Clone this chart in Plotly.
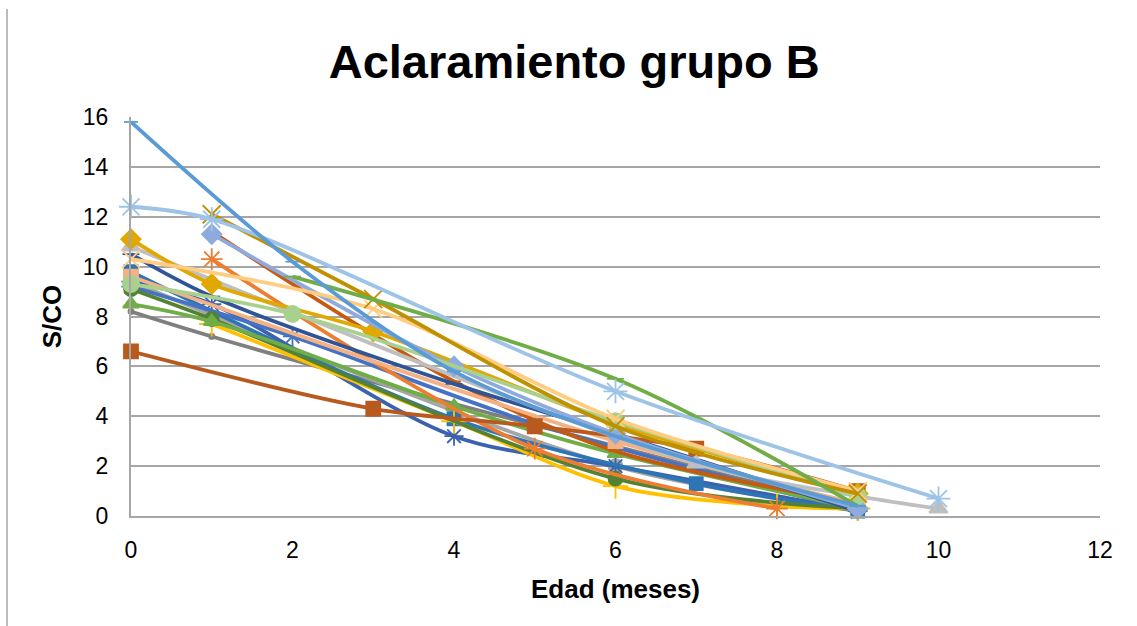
import plotly.graph_objects as go

# Edad (meses) and S/CO readings for each patient of group B
x01 = [0, 2, 4, 6, 9]
y01 = [15.8, 10.2, 5.8, 3.2, 0.4]
x02 = [0, 1, 6, 10]
y02 = [12.4, 11.9, 5.0, 0.7]
x03 = [1, 3, 6, 9]
y03 = [12.1, 8.7, 3.6, 0.9]
x04 = [1, 4, 6, 9]
y04 = [11.3, 6.0, 3.3, 0.3]
x05 = [1, 5, 8]
y05 = [10.3, 2.7, 0.3]
x06 = [1, 4, 6, 9]
y06 = [11.4, 5.4, 2.6, 0.5]
x07 = [0, 3, 5, 7, 9]
y07 = [6.6, 4.3, 3.6, 2.7, 1.0]
x08 = [0, 1, 3, 6, 9]
y08 = [11.1, 9.3, 7.4, 3.7, 0.9]
x09 = [0, 7, 9, 10]
y09 = [10.8, 2.1, 0.8, 0.3]
x10 = [0, 3, 6, 9]
y10 = [10.3, 8.3, 3.9, 1.0]
x11 = [0, 1, 4, 6, 9]
y11 = [10.5, 8.8, 5.3, 3.3, 0.2]
x12 = [0, 6, 9]
y12 = [9.6, 3.0, 0.5]
x13 = [0, 2, 6, 9]
y13 = [9.3, 8.1, 3.8, 0.8]
x14 = [2, 6, 9]
y14 = [9.6, 5.5, 0.4]
x15 = [0, 1, 4, 6, 9]
y15 = [8.5, 7.8, 4.4, 2.5, 0.3]
x16 = [0, 1, 6, 9]
y16 = [9.1, 7.9, 1.5, 0.3]
x17 = [1, 4, 6, 8, 9]
y17 = [7.7, 3.8, 1.2, 0.4, 0.3]
x18 = [0, 2, 5, 9]
y18 = [9.2, 7.2, 3.7, 0.2]
x19 = [0, 4, 7, 9]
y19 = [9.8, 3.9, 1.3, 0.2]
x20 = [0, 1, 4, 6, 9]
y20 = [9.4, 8.5, 3.2, 2.0, 0.2]
x21 = [0, 6, 9]
y21 = [9.4, 2.0, 0.3]
x22 = [0, 1, 4, 9]
y22 = [8.2, 7.2, 4.5, 0.3]

x_ticks = [0, 2, 4, 6, 8, 10, 12]
y_ticks = [0, 2, 4, 6, 8, 10, 12, 14, 16]

# (x, y, colour, marker symbol, marker size)
series = [
    (x22, y22, "#7F7F7F", "circle", 5),
    (x21, y21, "#A5A5A5", "circle", 14),
    (x20, y20, "#3B62AE", "asterisk-open", 16),
    (x19, y19, "#2E75B6", "square", 13),
    (x18, y18, "#4472C4", "asterisk-open", 16),
    (x17, y17, "#FFC000", "cross-thin-open", 18),
    (x16, y16, "#548235", "circle", 14),
    (x15, y15, "#70AD47", "triangle-up", 14),
    (x06, y06, "#C55A11", "line-ew-open", 10),
    (x05, y05, "#ED7D31", "asterisk-open", 18),
    (x12, y12, "#F4B183", "square", 14),
    (x11, y11, "#2F5597", "line-ew-open", 12),
    (x07, y07, "#B85A1E", "square", 14),
    (x09, y09, "#BFBFBF", "triangle-up", 16),
    (x08, y08, "#E0A800", "diamond", 15),
    (x04, y04, "#8FAADC", "diamond", 15),
    (x13, y13, "#A9D18E", "circle", 16),
    (x10, y10, "#FFCC80", "x-thin-open", 18),
    (x03, y03, "#BF9000", "x-thin-open", 18),
    (x14, y14, "#70AD47", "line-ew-open", 12),
    (x02, y02, "#9DC3E6", "asterisk-open", 20),
    (x01, y01, "#5B9BD5", "line-ew-open", 10),
]

fig = go.Figure()
for xs, ys, col, sym, size in series:
    fig.add_trace(go.Scatter(
        x=xs, y=ys, mode="lines+markers",
        line=dict(color=col, width=3.8, shape="spline", smoothing=0.9),
        marker=dict(symbol=sym, size=size, color=col,
                    line=dict(color=col, width=1.8)),
        cliponaxis=False, showlegend=False,
    ))

FONT = "Liberation Sans, Arial, sans-serif"
axis_font = dict(family=FONT, size=23, color="#000000")
label_font = dict(family=FONT, size=26, color="#000000", weight="bold")

fig.update_layout(
    width=1137, height=626,
    margin=dict(l=131, r=37, t=117, b=110),
    paper_bgcolor="#FFFFFF", plot_bgcolor="#FFFFFF",
    title=dict(
        text="Aclaramiento grupo B",
        font=dict(family=FONT, size=47, color="#000000", weight="bold"),
        x=0.505, xref="container", xanchor="center",
        y=1 - 62 / 626, yref="container", yanchor="middle",
    ),
    xaxis=dict(
        range=[0, 12], tickvals=x_ticks, tickfont=axis_font,
        showgrid=False, zeroline=False,
        showline=True, linecolor="#A6A6A6", linewidth=2,
        ticks="", ticklabelstandoff=12,
        title=dict(text="Edad (meses)", standoff=18, font=label_font),
    ),
    yaxis=dict(
        range=[0, 16], tickvals=y_ticks, tickfont=axis_font,
        showgrid=True, gridcolor="#A6A6A6", gridwidth=2,
        zeroline=False,
        showline=True, linecolor="#A6A6A6", linewidth=2,
        ticks="", ticklabelstandoff=16,
        title=dict(text="S/CO", standoff=14, font=label_font),
    ),
    shapes=[dict(type="line", xref="paper", yref="paper",
                 x0=-124 / 969, x1=-124 / 969, y0=-110 / 399, y1=1 + 108 / 399,
                 line=dict(color="#A6A6A6", width=1.5))],
)

fig.write_html("out.html")
